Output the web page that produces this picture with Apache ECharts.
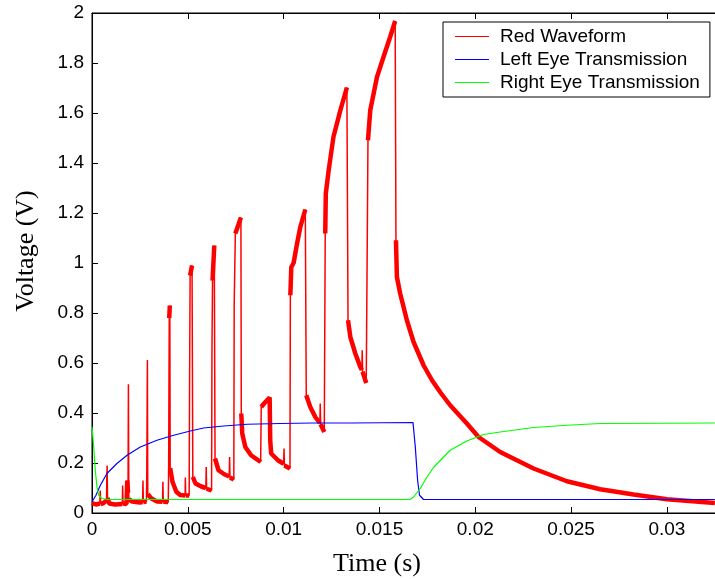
<!DOCTYPE html>
<html><head><meta charset="utf-8">
<script src="https://cdn.jsdelivr.net/npm/echarts@6/dist/echarts.min.js"></script>
<style>html,body{margin:0;padding:0;background:#fff}#c{width:715px;height:579px}</style>
</head><body><div id="c"></div>
<script>
// ---- Data ----
const seriesNames = ['Red Waveform', 'Left Eye Transmission', 'Right Eye Transmission'];

const redT = [0,0.0002,0.00041,0.00043,0.00045,0.0006,0.00076,0.00077,0.00079,0.00081,0.0009,0.0012,0.00158,0.0016,0.00162,0.0018,0.00184,0.00188,0.0019,0.00192,0.0021,0.0025,0.00264,0.00266,0.00268,0.00284,0.00286,0.00289,0.00291,0.0031,0.0034,0.00368,0.0037,0.00372,0.00398,0.004,0.00403,0.00406,0.00408,0.0042,0.0044,0.0046,0.00486,0.00487,0.00489,0.00507,0.00509,0.00512,0.00522,0.00526,0.0054,0.0057,0.00594,0.00596,0.00598,0.00624,0.00626,0.00629,0.00638,0.00642,0.0066,0.0069,0.00716,0.00718,0.0072,0.0074,0.00742,0.00748,0.00777,0.00779,0.00784,0.008,0.0083,0.0088,0.00883,0.009,0.00927,0.0093,0.00935,0.0097,0.01,0.01002,0.01004,0.01033,0.01035,0.0104,0.01052,0.0107,0.01087,0.01113,0.01118,0.01139,0.01165,0.01189,0.01191,0.01193,0.01212,0.01217,0.0122,0.01235,0.0126,0.01296,0.0133,0.01336,0.01348,0.01374,0.014,0.01408,0.0141,0.01412,0.01431,0.01435,0.0144,0.01452,0.01487,0.01521,0.01556,0.01582,0.01586,0.01591,0.01608,0.01643,0.01678,0.0173,0.01774,0.0182,0.01869,0.01956,0.02017,0.0213,0.02304,0.02478,0.02652,0.02826,0.03,0.0325];
const redV = [0.04,0.034,0.038,0.09,0.036,0.04,0.05,0.13,0.19,0.06,0.038,0.034,0.036,0.11,0.038,0.036,0.13,0.08,0.515,0.055,0.046,0.042,0.044,0.13,0.044,0.046,0.17,0.612,0.075,0.058,0.046,0.045,0.125,0.045,0.044,0.19,0.78,0.83,0.18,0.125,0.085,0.072,0.07,0.142,0.07,0.07,0.5,0.95,0.99,0.144,0.118,0.106,0.1,0.184,0.097,0.09,0.65,0.93,1.07,0.218,0.171,0.155,0.146,0.224,0.142,0.134,0.838,1.118,1.182,0.398,0.318,0.264,0.231,0.204,0.424,0.44,0.462,0.29,0.238,0.211,0.197,0.258,0.19,0.178,0.871,0.984,1.0,1.078,1.144,1.214,0.471,0.424,0.384,0.36,0.438,0.355,0.324,1.118,1.278,1.371,1.505,1.611,1.702,0.771,0.704,0.638,0.584,0.572,0.651,0.565,0.52,0.944,1.491,1.611,1.744,1.824,1.905,1.968,1.091,0.944,0.878,0.771,0.684,0.591,0.531,0.48,0.431,0.358,0.304,0.244,0.178,0.127,0.095,0.074,0.055,0.04];

const leftT = [0,0.0002,0.00043,0.00078,0.0013,0.00183,0.00252,0.00339,0.00426,0.00513,0.00582,0.00687,0.00809,0.00982,0.0115,0.0135,0.01675,0.01687,0.01699,0.01709,0.0173,0.0213,0.02134,0.02138,0.0256,0.02564,0.02568,0.0275,0.02754,0.02758,0.0325];
const leftV = [0.045,0.07,0.11,0.158,0.198,0.231,0.264,0.291,0.311,0.328,0.34,0.348,0.355,0.358,0.36,0.36,0.362,0.264,0.131,0.071,0.054,0.054,0.047,0.054,0.054,0.047,0.054,0.054,0.047,0.054,0.054];

const rightT = [0,0.00009,0.00017,0.00026,0.00035,0.00052,0.0008,0.0166,0.01678,0.01713,0.01748,0.01782,0.01869,0.01956,0.02043,0.0213,0.02304,0.02478,0.02652,0.03,0.0325];
const rightV = [0.345,0.264,0.171,0.104,0.071,0.058,0.054,0.054,0.064,0.098,0.144,0.182,0.251,0.288,0.314,0.324,0.342,0.351,0.358,0.359,0.36];

const xMin = 0, xMax = 0.03256, xStep = 0.005;
const yMin = 0, yMax = 2, yStep = 0.2;

// ---- Build series data ----
const zip = (t, v) => t.map((x, i) => [x, v[i]]);
const redData = zip(redT, redV);
// thick "noise" overlay: same samples, broken at the fast vertical transitions
const redNoise = [];
for (let i = 0; i < redData.length; i++) {
  redNoise.push(redData[i]);
  if (i < redData.length - 1) {
    const dx = redData[i + 1][0] - redData[i][0];
    const dy = Math.abs(redData[i + 1][1] - redData[i][1]);
    if (dy > 0.2 || (dy > 0.05 && dx <= 0.000025)) {
      redNoise.push([(redData[i][0] + redData[i + 1][0]) / 2, null]);
    }
  }
}

const sans = 'Liberation Sans, Arial, sans-serif';
const serif = 'Liberation Serif, Times New Roman, serif';

const chart = echarts.init(document.getElementById('c'), null, {renderer: 'canvas'});
chart.setOption({
  animation: false,
  backgroundColor: '#fff',
  grid: {left: 92, right: -1, top: 13, bottom: 66, show: true, borderColor: '#000', borderWidth: 1,
    backgroundColor: 'transparent', containLabel: false, outerBoundsMode: 'none'},
  legend: {
    data: seriesNames,
    orient: 'vertical',
    left: 443, top: 22,
    padding: [5, 10, 5, 12],
    itemGap: 4,
    itemWidth: 34,
    itemHeight: 1.2,
    icon: 'rect',
    borderColor: '#000', borderWidth: 1, backgroundColor: '#fff',
    textStyle: {fontFamily: sans, fontSize: 19, color: '#000', padding: [0, 0, 0, 6]}
  },
  xAxis: [{
    type: 'value', min: xMin, max: xMax, interval: xStep,
    name: 'Time (s)', nameLocation: 'middle', nameGap: 38,
    nameTextStyle: {fontFamily: serif, fontSize: 26, color: '#000', padding: [0, 54, 0, 0]},
    axisLine: {show: true, lineStyle: {color: '#000', width: 1}},
    axisTick: {show: true, inside: true, length: 6, lineStyle: {color: '#000'}},
    axisLabel: {fontFamily: sans, fontSize: 19, color: '#000', margin: 7,
      formatter: v => (Math.abs(v / xStep - Math.round(v / xStep)) < 1e-6 ? String(+v.toFixed(4)) : '')},
    splitLine: {show: false}
  }, {
    type: 'value', position: 'top', min: xMin, max: xMax, interval: xStep,
    axisLine: {show: true, lineStyle: {color: '#000', width: 1}},
    axisTick: {show: true, inside: true, length: 6, lineStyle: {color: '#000'}},
    axisLabel: {show: false}, splitLine: {show: false}
  }],
  yAxis: [{
    type: 'value', min: yMin, max: yMax, interval: yStep,
    name: 'Voltage (V)', nameLocation: 'middle', nameGap: 53, nameRotate: 90,
    nameTextStyle: {fontFamily: serif, fontSize: 26, color: '#000', padding: [0, 0, 0, 24]},
    axisLine: {show: true, lineStyle: {color: '#000', width: 1}},
    axisTick: {show: true, inside: true, length: 6, lineStyle: {color: '#000'}},
    axisLabel: {fontFamily: sans, fontSize: 19, color: '#000', margin: 8},
    splitLine: {show: false}
  }],
  series: [
    {name: 'Red Waveform', type: 'line', data: redData, symbol: 'none', lineStyle: {color: '#ff0000', width: 1.5}, itemStyle: {color: '#ff0000'}, z: 2},
    {name: 'red-noise', type: 'line', data: redNoise, symbol: 'none', connectNulls: false, lineStyle: {color: '#ff0000', width: 4.5}, itemStyle: {color: '#ff0000'}, z: 2, silent: true},
    {name: 'Left Eye Transmission', type: 'line', data: zip(leftT, leftV), symbol: 'none', lineStyle: {color: '#0000ff', width: 1.2}, itemStyle: {color: '#0000ff'}, z: 3},
    {name: 'Right Eye Transmission', type: 'line', data: zip(rightT, rightV), symbol: 'none', lineStyle: {color: '#00ff00', width: 1.2}, itemStyle: {color: '#00ff00'}, z: 4}
  ]
});
</script></body></html>
